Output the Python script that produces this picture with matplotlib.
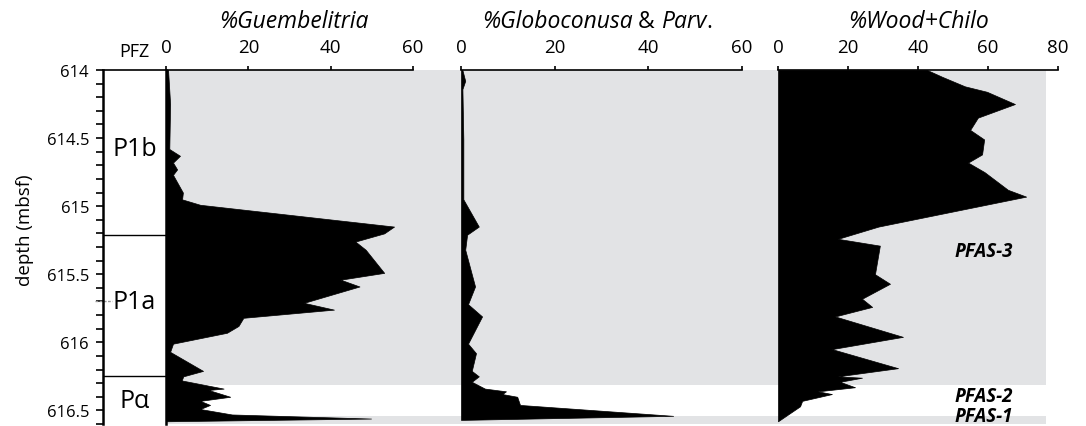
import matplotlib.pyplot as plt
import numpy as np

plt.rcParams['font.family'] = ['Open Sans', 'DejaVu Sans']

W, H = 1086, 427

# zone boundaries (depth, mbsf)
pfz_names = ['P1b', 'P1a', 'P\u03b1']
pfz_bounds = [614.0, 615.21, 616.25, 616.6]

# %Guembelitria
g_depth = [614.0, 614.25, 614.58, 614.63, 614.68, 614.73, 614.77, 614.90, 614.95, 614.99,
           615.15, 615.20, 615.26, 615.32, 615.49, 615.54, 615.59, 615.71, 615.76, 615.82,
           615.88, 615.93, 616.01, 616.07, 616.21, 616.25, 616.28, 616.34, 616.35, 616.40,
           616.43, 616.46, 616.49, 616.53, 616.56, 616.58]
g_val = [0.5, 1.0, 0.8, 3.4, 1.7, 2.7, 1.7, 4.1, 3.9, 8.3,
         55.4, 53.0, 46.0, 48.5, 53.0, 42.4, 47.0, 33.5, 40.8, 18.8,
         17.6, 14.8, 1.7, 1.0, 9.0, 4.2, 3.8, 14.0, 10.3, 15.6,
         8.3, 10.7, 8.3, 16.0, 49.8, 0.0]

# %Globoconusa & Parv.
p_depth = [614.0, 614.08, 614.14, 614.51, 614.95, 615.15, 615.21, 615.32, 615.59, 615.72,
           615.81, 616.01, 616.08, 616.21, 616.25, 616.29, 616.34, 616.36, 616.38, 616.40,
           616.46, 616.54, 616.57]
p_val = [0.3, 0.9, 0.3, 0.5, 0.5, 3.8, 1.3, 0.9, 3.0, 1.5,
         4.5, 1.5, 3.2, 2.3, 3.8, 2.3, 5.1, 9.6, 8.8, 12.0,
         12.6, 45.3, 0.0]

# %Wood+Chilo
w_depth = [614.0, 614.05, 614.12, 614.16, 614.25, 614.35, 614.44, 614.51, 614.62, 614.68,
           614.75, 614.88, 614.93, 615.15, 615.24, 615.29, 615.50, 615.57, 615.68, 615.74,
           615.81, 615.96, 616.05, 616.19, 616.25, 616.26, 616.29, 616.33, 616.36, 616.38,
           616.43, 616.47, 616.58]
w_val = [42.6, 46.9, 53.4, 59.7, 67.7, 57.1, 54.9, 58.9, 58.3, 54.3,
         59.0, 65.7, 70.9, 28.7, 17.1, 29.1, 27.7, 32.0, 24.0, 26.9,
         16.3, 35.7, 15.4, 34.3, 17.1, 24.0, 17.7, 22.0, 11.4, 15.4,
         6.9, 6.3, 0.0]

# PFAS intervals (grey / white / grey)
pfas_bounds = [614.0, 616.31, 616.54, 616.6]
pfas_names = ['PFAS-3', 'PFAS-2', 'PFAS-1']
pfas_label_depth = [615.33, 616.395, 616.545]

YTOP, YBOT = 614.0, 616.6
GREY = '#e2e3e5'


def rect(x0, x1, y0=71, y1=425):
    return [x0 / W, 1 - y1 / H, (x1 - x0) / W, (y1 - y0) / H]


def ypix(d):
    return 1 - (71 + (d - YTOP) * 136) / H


fig = plt.figure(figsize=(W / 100, H / 100), dpi=100)

# grey background behind the three panels
bg = fig.add_axes(rect(166, 1046), zorder=0)
bg.set_ylim(YBOT, YTOP)
bg.set_xlim(0, 1)
for i, c in enumerate([GREY, 'white', GREY]):
    bg.axhspan(pfas_bounds[i], pfas_bounds[i + 1], color=c, lw=0)
bg.axis('off')

# PFZ column with depth axis
az = fig.add_axes(rect(103, 166), zorder=2)
az.set_facecolor('white')
az.set_ylim(YBOT, YTOP)
az.set_xlim(0, 1)
az.set_xticks([])
az.set_yticks(np.arange(614, 616.6, 0.5))
az.set_yticks(np.arange(614, 616.61, 0.1), minor=True)
az.set_yticklabels(['614', '614.5', '615', '615.5', '616', '616.5'], fontsize=12)
az.tick_params(axis='y', which='major', length=5, width=1.2, pad=5)
az.tick_params(axis='y', which='minor', length=5, width=1.2)
az.spines['bottom'].set_visible(False)
for s in ['left', 'right']:
    az.spines[s].set_linewidth(1.8)
az.spines['top'].set_linewidth(1.2)
az.set_ylabel('depth (mbsf)', fontsize=13.5)
az.yaxis.set_label_coords(-1.1, 0.55)
for b in pfz_bounds[1:-1]:
    az.axhline(b, color='black', lw=1.0)
name_y = [614.58, 615.7, 616.43]
for n, y in zip(pfz_names, name_y):
    az.text(0.5, y, n, ha='center', va='center', fontsize=18)
az.text(0.5, 613.86, 'PFZ', ha='center', va='center', fontsize=13)
az.plot([-0.12, 0.14], [615.7, 615.7], color='#999999', lw=1, ls=(0, (2, 1)), clip_on=False)


def panel(x0, x1, depth, vals, xmax, step):
    ax = fig.add_axes(rect(x0, x1), zorder=1)
    ax.patch.set_alpha(0)
    ax.fill_betweenx(depth, 0, vals, color='black', lw=0.5, edgecolor='black')
    ax.set_ylim(YBOT, YTOP)
    ax.set_xlim(0, xmax)
    ax.set_yticks([])
    ax.xaxis.tick_top()
    ax.set_xticks(np.arange(0, xmax + 1, step))
    ax.tick_params(axis='x', direction='out', length=3, width=1.2, pad=7, labelsize=13.5)
    for s in ['bottom', 'right', 'left']:
        ax.spines[s].set_visible(False)
    ax.spines['top'].set_linewidth(1.2)
    return ax


a1 = panel(166, 413, g_depth, g_val, 60, 20)
a2 = panel(461, 742, p_depth, p_val, 60, 20)
a3 = panel(778, 1058, w_depth, w_val, 80, 20)

fig.text(294 / W, 1 - 22 / H, '%Guembelitria', ha='center', va='center',
         fontsize=16.5, style='italic')
fig.text(919 / W, 1 - 22 / H, '%Wood+Chilo', ha='center', va='center',
         fontsize=16.5, style='italic')

# mixed-style title for the middle panel
pieces = [('%Globoconusa', 'italic'), (' & ', 'normal'), ('Parv', 'italic'), ('.', 'normal')]
renderer = fig.canvas.get_renderer()
texts = []
for s, st in pieces:
    texts.append(fig.text(0, 1 - 22 / H, s, ha='left', va='center', fontsize=16.5, style=st))
widths = [t.get_window_extent(renderer).width for t in texts]
x = 597 - sum(widths) / 2
for t, w in zip(texts, widths):
    t.set_x(x / W)
    x += w

for n, y in zip(pfas_names, pfas_label_depth):
    fig.text(1013 / W, ypix(y), n, ha='right', va='center',
             fontsize=13.5, style='italic', weight='bold')

fig.savefig('out.png', dpi=100)
plt.close()
